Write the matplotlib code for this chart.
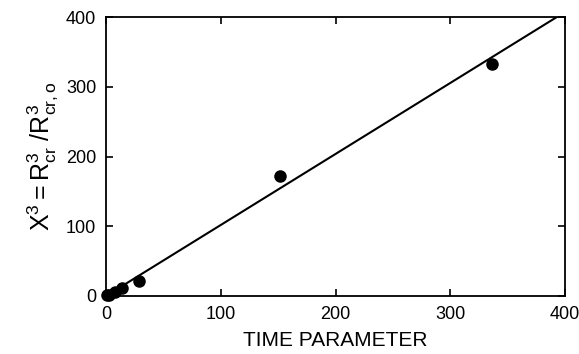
import numpy as np
import matplotlib
matplotlib.use("Agg")
import matplotlib.pyplot as plt

plt.rcParams['font.family'] = 'Liberation Sans'
plt.rcParams['mathtext.fontset'] = 'custom'
plt.rcParams['mathtext.rm'] = 'Liberation Sans'
plt.rcParams['mathtext.it'] = 'Liberation Sans'

# measured points
time_param = [1, 3, 8, 14, 29, 152, 336]
x_cubed = [1, 2, 6, 11, 21, 172, 333]

# fitted line
fit_x = [0, 400]
fit_slope = 1.018

fig = plt.figure(figsize=(5.79, 3.54), dpi=100)
ax = fig.add_axes([106 / 579, 58 / 354, 459 / 579, 279 / 354])

ax.plot(fit_x, [fit_slope * v for v in fit_x], color='black', lw=1.5, clip_on=True)
ax.plot(time_param, x_cubed, 'o', color='black', ms=8, clip_on=False, zorder=3)

ax.set_xlim(0, 400)
ax.set_ylim(0, 400)
ax.set_xticks([0, 100, 200, 300, 400])
ax.set_yticks([0, 100, 200, 300, 400])
ax.tick_params(direction='in', top=True, right=True, length=5, width=1.2,
               labelsize=13, pad=7)
for s in ax.spines.values():
    s.set_linewidth(1.3)

ax.set_xlabel('TIME PARAMETER', fontsize=15, labelpad=6)
ax.set_ylabel(r'$\mathregular{X^3 = R^3_{cr}\ / R^3_{cr,o}}$', fontsize=18, labelpad=4)

fig.savefig('out.png', dpi=100)
